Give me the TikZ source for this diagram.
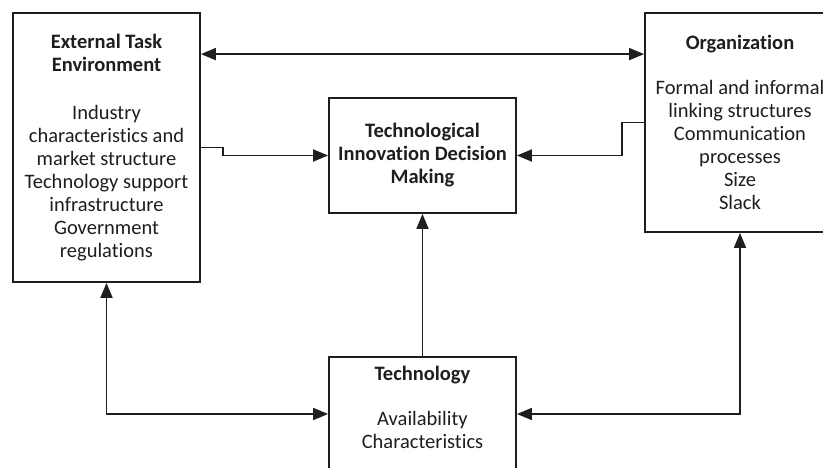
\documentclass[tikz,border=0pt]{standalone}
\usepackage{fontspec}
\setmainfont[Ligatures={NoCommon}]{Carlito}
\usetikzlibrary{arrows.meta}
\definecolor{ink}{HTML}{1E1E1E}
\begin{document}
\begin{tikzpicture}[x=1pt,y=-1pt,
  box/.style={draw=ink,line width=1.8pt,rectangle,inner sep=0pt,align=center,
    text=ink,font=\fontsize{20.5}{23}\selectfont},
  txt/.style={inner sep=0pt,align=center,text=ink,font=\fontsize{20.5}{23}\selectfont},
  conn/.style={draw=ink,line width=1.8pt,-{Triangle[length=15pt,width=12pt]}},
  conn2/.style={draw=ink,line width=1.8pt,{Triangle[length=15pt,width=12pt]}-{Triangle[length=15pt,width=12pt]}}]
\useasboundingbox (0,0) rectangle (823,468);
\clip (0,0) rectangle (823,468);
\node[box,minimum width=187pt,minimum height=269pt] (ext) at (106.5,147.5)
  {\textbf{External Task}\\ \textbf{Environment}\\[25pt] Industry\\ characteristics and\\ market structure\\ Technology support\\ infrastructure\\ Government\\ regulations};
\node[box,minimum width=190pt,minimum height=219pt] (org) at (740,122.5)
  {\textbf{Organization}\\[22pt] Formal and informal\\ linking structures\\ Communication\\ processes\\ Size\\ Slack};
\node[box,minimum width=187pt,minimum height=115pt] (dec) at (422.5,155.5)
  {\textbf{Technological}\\ \textbf{Innovation Decision}\\ \textbf{Making}};
\node[box,minimum width=187pt,minimum height=114pt] (tech) at (422.5,414) {};
\node[txt,anchor=north] (techtxt) at (422.5,366)
  {\textbf{Technology}\\[22pt] Availability\\ Characteristics};
\draw[conn2] ([yshift=-42pt]ext.north east) -- ([yshift=-42pt]org.north west);
\draw[conn] (ext.east) -- ++(22,0) |- (dec.west);
\draw[conn] (org.west) -- ++(-22,0) |- (dec.east);
\draw[conn] (tech.north) -- (dec.south);
\draw[conn2] (ext.south) |- (tech.west);
\draw[conn2] (tech.east) -| (org.south);
\end{tikzpicture}
\end{document}
